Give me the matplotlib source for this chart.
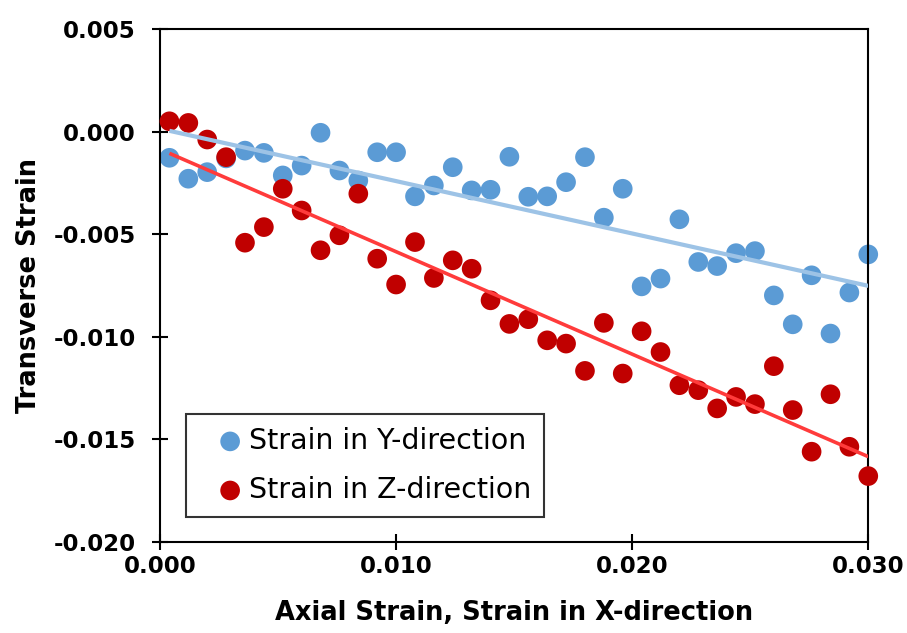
import numpy as np
import matplotlib
matplotlib.use("Agg")
import matplotlib.pyplot as plt

plt.rcParams['font.family'] = ['DejaVu Sans']

# Axial strain (x) values
axial = [0.0004 + 0.0008 * i for i in range(38)]

strain_y = [-0.00128, -0.00230, -0.00198, -0.00131, -0.00093, -0.00104, -0.00214,
            -0.00166, -0.00006, -0.00190, -0.00239, -0.00101, -0.00101, -0.00316,
            -0.00263, -0.00174, -0.00287, -0.00284, -0.00123, -0.00318, -0.00316,
            -0.00247, -0.00125, -0.00420, -0.00279, -0.00755, -0.00717, -0.00428,
            -0.00636, -0.00656, -0.00593, -0.00583, -0.00799, -0.00940, -0.00701,
            -0.00985, -0.00785, -0.00599]

strain_z = [0.00050, 0.00042, -0.00039, -0.00125, -0.00542, -0.00466, -0.00279,
            -0.00385, -0.00579, -0.00506, -0.00303, -0.00620, -0.00746, -0.00539,
            -0.00714, -0.00628, -0.00669, -0.00823, -0.00938, -0.00915, -0.01018,
            -0.01034, -0.01167, -0.00933, -0.01180, -0.00974, -0.01075, -0.01237,
            -0.01261, -0.01350, -0.01294, -0.01329, -0.01144, -0.01358, -0.01561,
            -0.01281, -0.01537, -0.01680]

x_ticks = [0.000, 0.010, 0.020, 0.030]
y_ticks = [0.005, 0.000, -0.005, -0.010, -0.015, -0.020]

x = np.array(axial)
fig = plt.figure(figsize=(9.07, 6.33), dpi=100)
ax = fig.add_axes([0.1764, 0.1442, 0.9573 - 0.1764, 0.9542 - 0.1442])

ax.scatter(x, strain_y, s=200, color='#5B9BD5', zorder=2, label='Strain in Y-direction',
           edgecolors='none', clip_on=False)
ax.scatter(x, strain_z, s=200, color='#C00000', zorder=3, label='Strain in Z-direction',
           edgecolors='none', clip_on=False)

py = np.polyfit(x, strain_y, 1)
pz = np.polyfit(x, strain_z, 1)
xl = np.array([x[0], x[-1]])
ax.plot(xl, np.polyval(py, xl), color='#9DC3E6', lw=3.0, zorder=4, solid_capstyle='butt')
ax.plot(xl, np.polyval(pz, xl), color='#FF3B3B', lw=2.6, zorder=5, solid_capstyle='butt')

ax.set_xlim(0, 0.030)
ax.set_ylim(-0.020, 0.005)
ax.set_xticks(x_ticks)
ax.set_yticks(y_ticks)
ax.set_xticklabels([f"{v:.3f}" for v in x_ticks], fontsize=16.5, fontweight='bold')
ax.set_yticklabels([f"{v:.3f}" for v in y_ticks], fontsize=16.5, fontweight='bold')
ax.tick_params(axis='y', direction='inout', length=11, width=1.5, pad=12)
ax.tick_params(axis='x', direction='inout', length=11, width=1.5, pad=4)
for sp in ax.spines.values():
    sp.set_linewidth(1.5)

ax.set_xlabel('Axial Strain, Strain in X-direction', fontsize=18.5, fontweight='bold', labelpad=16)
ax.set_ylabel('Transverse Strain', fontsize=18.5, fontweight='bold', labelpad=8)

leg = ax.legend(loc='lower left', bbox_to_anchor=(0.0367, 0.0487), fontsize=20.5,
                frameon=True, fancybox=False, edgecolor='black', handletextpad=-0.45,
                markerscale=1.0, borderpad=0.45, labelspacing=0.74, handlelength=2.2,
                borderaxespad=0)
leg.get_frame().set_linewidth(1.5)

fig.savefig('out.png', dpi=100)
